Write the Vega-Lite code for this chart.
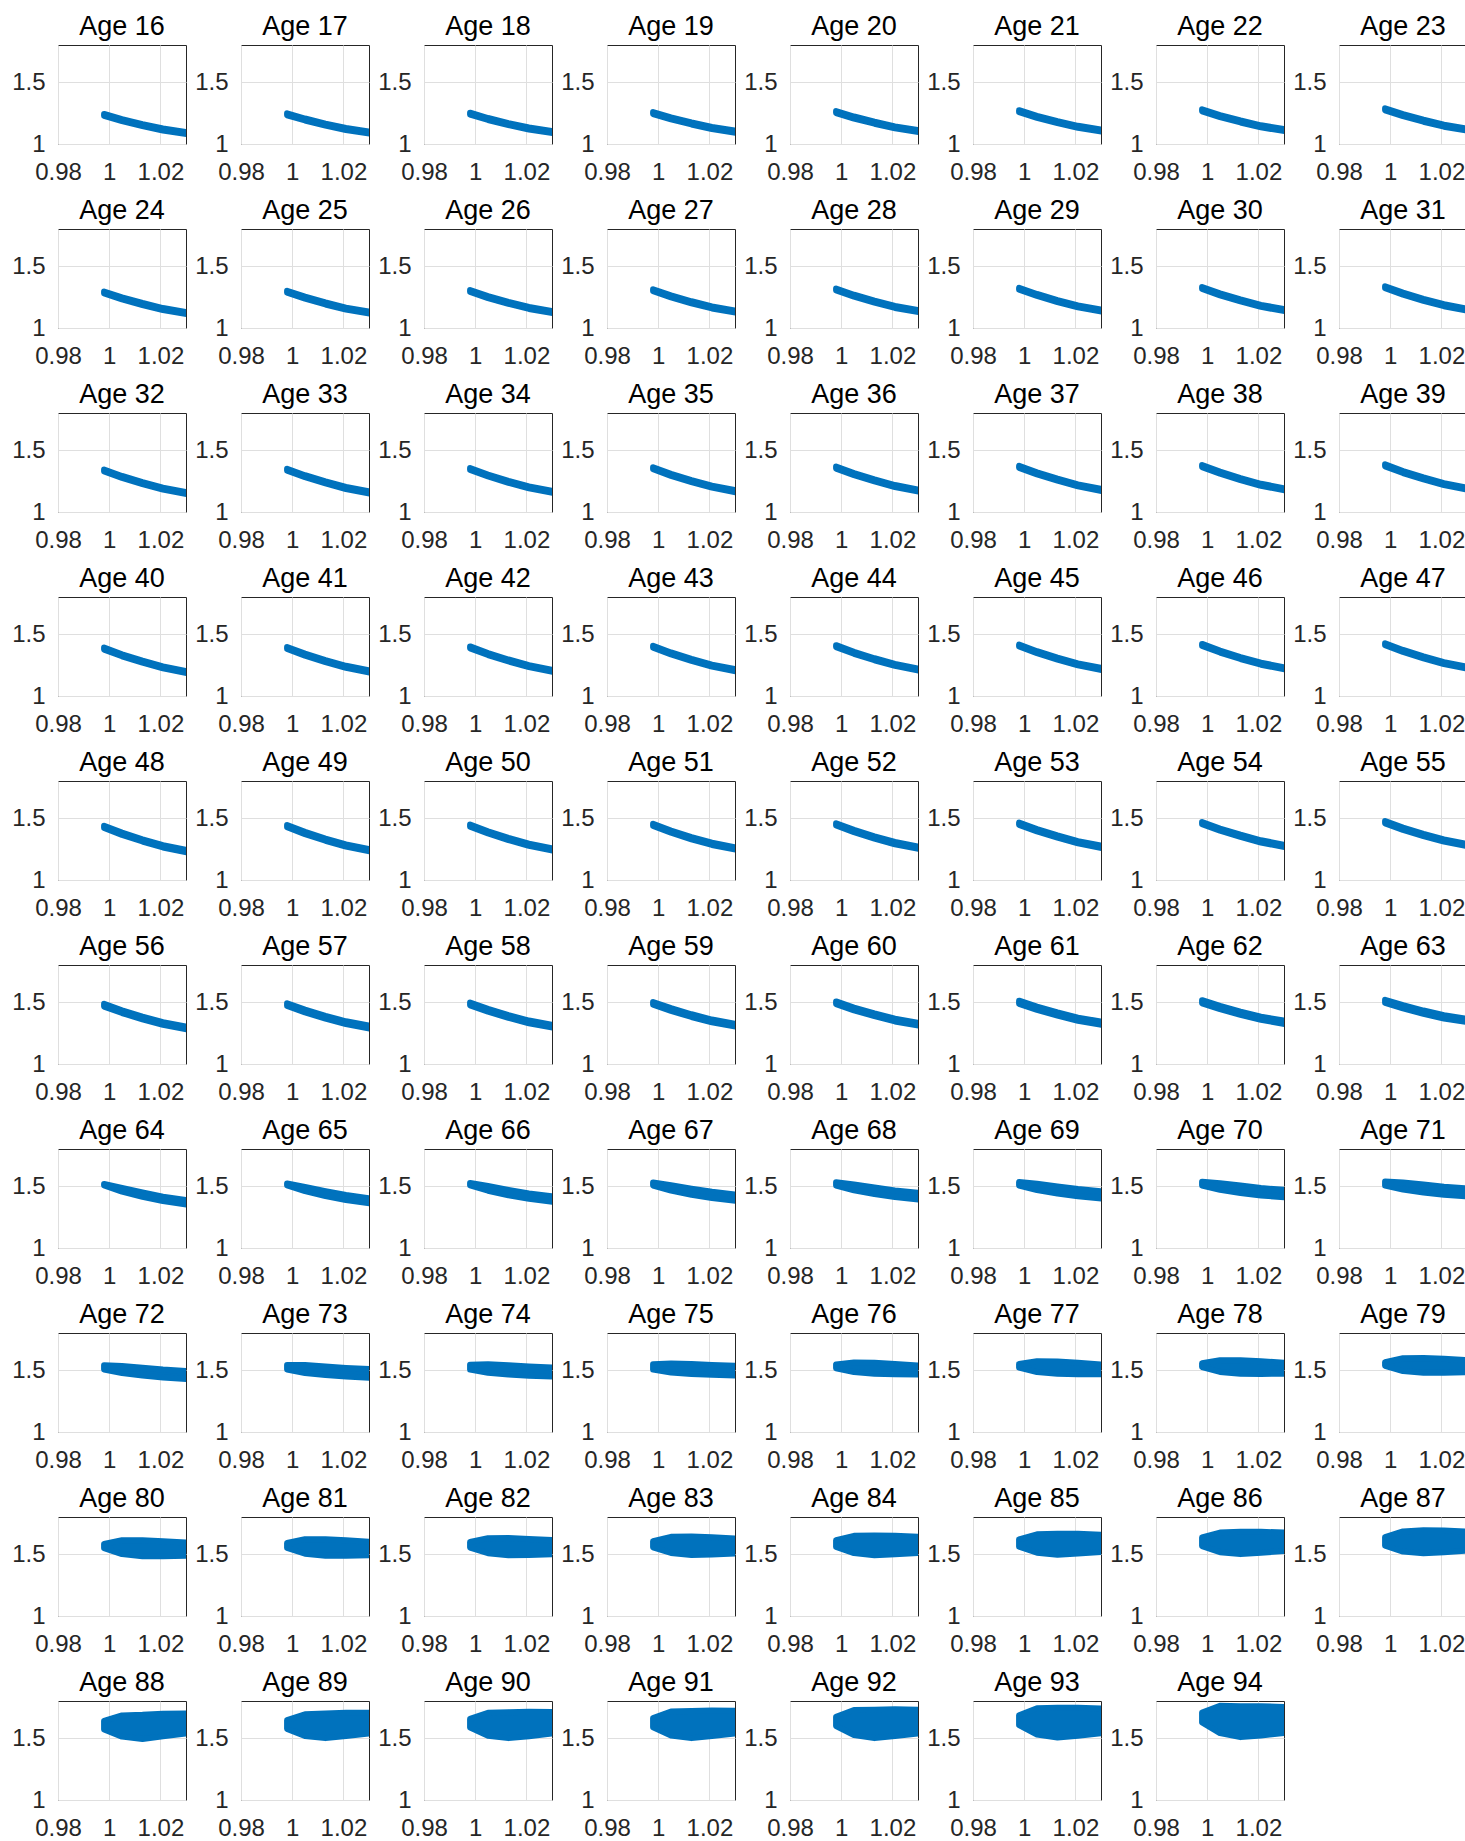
{
"$schema": "https://vega.github.io/schema/vega-lite/v6.json",
"background": "white",
"padding": {"left": 11, "top": 12, "right": 0, "bottom": 0},
"data": {"values": [
{"age":16,"x":0.998,"lo":1.227,"hi":1.243},{"age":16,"x":1.005,"lo":1.185,"hi":1.201},{"age":16,"x":1.013,"lo":1.145,"hi":1.161},{"age":16,"x":1.021,"lo":1.109,"hi":1.125},{"age":16,"x":1.031,"lo":1.077,"hi":1.093},
{"age":17,"x":0.998,"lo":1.232,"hi":1.248},{"age":17,"x":1.005,"lo":1.190,"hi":1.206},{"age":17,"x":1.013,"lo":1.149,"hi":1.165},{"age":17,"x":1.021,"lo":1.113,"hi":1.129},{"age":17,"x":1.031,"lo":1.081,"hi":1.097},
{"age":18,"x":0.998,"lo":1.237,"hi":1.253},{"age":18,"x":1.005,"lo":1.194,"hi":1.210},{"age":18,"x":1.013,"lo":1.153,"hi":1.169},{"age":18,"x":1.021,"lo":1.117,"hi":1.133},{"age":18,"x":1.031,"lo":1.085,"hi":1.101},
{"age":19,"x":0.998,"lo":1.242,"hi":1.258},{"age":19,"x":1.005,"lo":1.199,"hi":1.215},{"age":19,"x":1.013,"lo":1.158,"hi":1.174},{"age":19,"x":1.021,"lo":1.121,"hi":1.137},{"age":19,"x":1.031,"lo":1.089,"hi":1.105},
{"age":20,"x":0.998,"lo":1.250,"hi":1.266},{"age":20,"x":1.005,"lo":1.206,"hi":1.222},{"age":20,"x":1.013,"lo":1.164,"hi":1.180},{"age":20,"x":1.021,"lo":1.126,"hi":1.142},{"age":20,"x":1.031,"lo":1.093,"hi":1.109},
{"age":21,"x":0.998,"lo":1.257,"hi":1.273},{"age":21,"x":1.005,"lo":1.212,"hi":1.228},{"age":21,"x":1.013,"lo":1.169,"hi":1.185},{"age":21,"x":1.021,"lo":1.131,"hi":1.147},{"age":21,"x":1.031,"lo":1.097,"hi":1.113},
{"age":22,"x":0.998,"lo":1.264,"hi":1.280},{"age":22,"x":1.005,"lo":1.218,"hi":1.234},{"age":22,"x":1.013,"lo":1.174,"hi":1.190},{"age":22,"x":1.021,"lo":1.135,"hi":1.151},{"age":22,"x":1.031,"lo":1.101,"hi":1.117},
{"age":23,"x":0.998,"lo":1.272,"hi":1.288},{"age":23,"x":1.005,"lo":1.225,"hi":1.241},{"age":23,"x":1.013,"lo":1.180,"hi":1.196},{"age":23,"x":1.021,"lo":1.140,"hi":1.156},{"age":23,"x":1.031,"lo":1.105,"hi":1.121},
{"age":24,"x":0.998,"lo":1.279,"hi":1.295},{"age":24,"x":1.005,"lo":1.231,"hi":1.247},{"age":24,"x":1.013,"lo":1.186,"hi":1.202},{"age":24,"x":1.021,"lo":1.145,"hi":1.161},{"age":24,"x":1.031,"lo":1.109,"hi":1.125},
{"age":25,"x":0.998,"lo":1.285,"hi":1.301},{"age":25,"x":1.005,"lo":1.237,"hi":1.253},{"age":25,"x":1.013,"lo":1.190,"hi":1.206},{"age":25,"x":1.021,"lo":1.149,"hi":1.165},{"age":25,"x":1.031,"lo":1.113,"hi":1.129},
{"age":26,"x":0.998,"lo":1.291,"hi":1.307},{"age":26,"x":1.005,"lo":1.242,"hi":1.258},{"age":26,"x":1.013,"lo":1.195,"hi":1.211},{"age":26,"x":1.021,"lo":1.154,"hi":1.170},{"age":26,"x":1.031,"lo":1.117,"hi":1.133},
{"age":27,"x":0.998,"lo":1.297,"hi":1.313},{"age":27,"x":1.005,"lo":1.248,"hi":1.264},{"age":27,"x":1.013,"lo":1.200,"hi":1.216},{"age":27,"x":1.021,"lo":1.158,"hi":1.174},{"age":27,"x":1.031,"lo":1.121,"hi":1.137},
{"age":28,"x":0.998,"lo":1.303,"hi":1.319},{"age":28,"x":1.005,"lo":1.253,"hi":1.269},{"age":28,"x":1.013,"lo":1.205,"hi":1.221},{"age":28,"x":1.021,"lo":1.162,"hi":1.178},{"age":28,"x":1.031,"lo":1.125,"hi":1.141},
{"age":29,"x":0.998,"lo":1.309,"hi":1.325},{"age":29,"x":1.005,"lo":1.259,"hi":1.275},{"age":29,"x":1.013,"lo":1.210,"hi":1.226},{"age":29,"x":1.021,"lo":1.167,"hi":1.183},{"age":29,"x":1.031,"lo":1.129,"hi":1.145},
{"age":30,"x":0.998,"lo":1.315,"hi":1.331},{"age":30,"x":1.005,"lo":1.264,"hi":1.280},{"age":30,"x":1.013,"lo":1.215,"hi":1.231},{"age":30,"x":1.021,"lo":1.171,"hi":1.187},{"age":30,"x":1.031,"lo":1.133,"hi":1.149},
{"age":31,"x":0.998,"lo":1.321,"hi":1.337},{"age":31,"x":1.005,"lo":1.270,"hi":1.286},{"age":31,"x":1.013,"lo":1.220,"hi":1.236},{"age":31,"x":1.021,"lo":1.176,"hi":1.192},{"age":31,"x":1.031,"lo":1.137,"hi":1.153},
{"age":32,"x":0.998,"lo":1.327,"hi":1.343},{"age":32,"x":1.005,"lo":1.275,"hi":1.291},{"age":32,"x":1.013,"lo":1.225,"hi":1.241},{"age":32,"x":1.021,"lo":1.181,"hi":1.197},{"age":32,"x":1.031,"lo":1.142,"hi":1.158},
{"age":33,"x":0.998,"lo":1.333,"hi":1.349},{"age":33,"x":1.005,"lo":1.281,"hi":1.297},{"age":33,"x":1.013,"lo":1.231,"hi":1.247},{"age":33,"x":1.021,"lo":1.186,"hi":1.202},{"age":33,"x":1.031,"lo":1.147,"hi":1.163},
{"age":34,"x":0.998,"lo":1.339,"hi":1.355},{"age":34,"x":1.005,"lo":1.287,"hi":1.303},{"age":34,"x":1.013,"lo":1.236,"hi":1.252},{"age":34,"x":1.021,"lo":1.191,"hi":1.207},{"age":34,"x":1.031,"lo":1.152,"hi":1.168},
{"age":35,"x":0.998,"lo":1.345,"hi":1.361},{"age":35,"x":1.005,"lo":1.292,"hi":1.308},{"age":35,"x":1.013,"lo":1.242,"hi":1.258},{"age":35,"x":1.021,"lo":1.197,"hi":1.213},{"age":35,"x":1.031,"lo":1.157,"hi":1.173},
{"age":36,"x":0.998,"lo":1.351,"hi":1.367},{"age":36,"x":1.005,"lo":1.298,"hi":1.314},{"age":36,"x":1.013,"lo":1.247,"hi":1.263},{"age":36,"x":1.021,"lo":1.202,"hi":1.218},{"age":36,"x":1.031,"lo":1.162,"hi":1.178},
{"age":37,"x":0.998,"lo":1.357,"hi":1.373},{"age":37,"x":1.005,"lo":1.304,"hi":1.320},{"age":37,"x":1.013,"lo":1.253,"hi":1.269},{"age":37,"x":1.021,"lo":1.207,"hi":1.223},{"age":37,"x":1.031,"lo":1.167,"hi":1.183},
{"age":38,"x":0.998,"lo":1.363,"hi":1.379},{"age":38,"x":1.005,"lo":1.310,"hi":1.326},{"age":38,"x":1.013,"lo":1.258,"hi":1.274},{"age":38,"x":1.021,"lo":1.212,"hi":1.228},{"age":38,"x":1.031,"lo":1.172,"hi":1.188},
{"age":39,"x":0.998,"lo":1.369,"hi":1.385},{"age":39,"x":1.005,"lo":1.315,"hi":1.331},{"age":39,"x":1.013,"lo":1.263,"hi":1.279},{"age":39,"x":1.021,"lo":1.217,"hi":1.233},{"age":39,"x":1.031,"lo":1.177,"hi":1.193},
{"age":40,"x":0.998,"lo":1.375,"hi":1.391},{"age":40,"x":1.005,"lo":1.321,"hi":1.337},{"age":40,"x":1.013,"lo":1.269,"hi":1.285},{"age":40,"x":1.021,"lo":1.223,"hi":1.239},{"age":40,"x":1.031,"lo":1.182,"hi":1.198},
{"age":41,"x":0.998,"lo":1.380,"hi":1.396},{"age":41,"x":1.005,"lo":1.326,"hi":1.342},{"age":41,"x":1.013,"lo":1.274,"hi":1.290},{"age":41,"x":1.021,"lo":1.228,"hi":1.244},{"age":41,"x":1.031,"lo":1.187,"hi":1.203},
{"age":42,"x":0.998,"lo":1.385,"hi":1.401},{"age":42,"x":1.005,"lo":1.331,"hi":1.347},{"age":42,"x":1.013,"lo":1.279,"hi":1.295},{"age":42,"x":1.021,"lo":1.233,"hi":1.249},{"age":42,"x":1.031,"lo":1.192,"hi":1.208},
{"age":43,"x":0.998,"lo":1.390,"hi":1.406},{"age":43,"x":1.005,"lo":1.336,"hi":1.352},{"age":43,"x":1.013,"lo":1.284,"hi":1.300},{"age":43,"x":1.021,"lo":1.238,"hi":1.254},{"age":43,"x":1.031,"lo":1.197,"hi":1.213},
{"age":44,"x":0.998,"lo":1.395,"hi":1.411},{"age":44,"x":1.005,"lo":1.341,"hi":1.357},{"age":44,"x":1.013,"lo":1.289,"hi":1.305},{"age":44,"x":1.021,"lo":1.243,"hi":1.259},{"age":44,"x":1.031,"lo":1.202,"hi":1.218},
{"age":45,"x":0.998,"lo":1.400,"hi":1.416},{"age":45,"x":1.005,"lo":1.346,"hi":1.362},{"age":45,"x":1.013,"lo":1.294,"hi":1.310},{"age":45,"x":1.021,"lo":1.248,"hi":1.264},{"age":45,"x":1.031,"lo":1.207,"hi":1.223},
{"age":46,"x":0.998,"lo":1.405,"hi":1.421},{"age":46,"x":1.005,"lo":1.351,"hi":1.367},{"age":46,"x":1.013,"lo":1.299,"hi":1.315},{"age":46,"x":1.021,"lo":1.253,"hi":1.269},{"age":46,"x":1.031,"lo":1.212,"hi":1.228},
{"age":47,"x":0.998,"lo":1.410,"hi":1.426},{"age":47,"x":1.005,"lo":1.356,"hi":1.372},{"age":47,"x":1.013,"lo":1.304,"hi":1.320},{"age":47,"x":1.021,"lo":1.258,"hi":1.274},{"age":47,"x":1.031,"lo":1.217,"hi":1.233},
{"age":48,"x":0.998,"lo":1.421,"hi":1.439},{"age":48,"x":1.005,"lo":1.365,"hi":1.383},{"age":48,"x":1.013,"lo":1.311,"hi":1.329},{"age":48,"x":1.021,"lo":1.263,"hi":1.281},{"age":48,"x":1.031,"lo":1.221,"hi":1.239},
{"age":49,"x":0.998,"lo":1.426,"hi":1.444},{"age":49,"x":1.005,"lo":1.371,"hi":1.389},{"age":49,"x":1.013,"lo":1.317,"hi":1.335},{"age":49,"x":1.021,"lo":1.270,"hi":1.288},{"age":49,"x":1.031,"lo":1.228,"hi":1.246},
{"age":50,"x":0.998,"lo":1.431,"hi":1.449},{"age":50,"x":1.005,"lo":1.376,"hi":1.394},{"age":50,"x":1.013,"lo":1.323,"hi":1.341},{"age":50,"x":1.021,"lo":1.276,"hi":1.294},{"age":50,"x":1.031,"lo":1.235,"hi":1.253},
{"age":51,"x":0.998,"lo":1.436,"hi":1.454},{"age":51,"x":1.005,"lo":1.382,"hi":1.400},{"age":51,"x":1.013,"lo":1.329,"hi":1.347},{"age":51,"x":1.021,"lo":1.283,"hi":1.301},{"age":51,"x":1.031,"lo":1.242,"hi":1.260},
{"age":52,"x":0.998,"lo":1.441,"hi":1.459},{"age":52,"x":1.005,"lo":1.387,"hi":1.405},{"age":52,"x":1.013,"lo":1.335,"hi":1.353},{"age":52,"x":1.021,"lo":1.289,"hi":1.307},{"age":52,"x":1.031,"lo":1.249,"hi":1.267},
{"age":53,"x":0.998,"lo":1.446,"hi":1.464},{"age":53,"x":1.005,"lo":1.393,"hi":1.411},{"age":53,"x":1.013,"lo":1.342,"hi":1.360},{"age":53,"x":1.021,"lo":1.296,"hi":1.314},{"age":53,"x":1.031,"lo":1.256,"hi":1.274},
{"age":54,"x":0.998,"lo":1.451,"hi":1.469},{"age":54,"x":1.005,"lo":1.398,"hi":1.416},{"age":54,"x":1.013,"lo":1.348,"hi":1.366},{"age":54,"x":1.021,"lo":1.303,"hi":1.321},{"age":54,"x":1.031,"lo":1.263,"hi":1.281},
{"age":55,"x":0.998,"lo":1.458,"hi":1.476},{"age":55,"x":1.005,"lo":1.405,"hi":1.423},{"age":55,"x":1.013,"lo":1.355,"hi":1.373},{"age":55,"x":1.021,"lo":1.310,"hi":1.328},{"age":55,"x":1.031,"lo":1.270,"hi":1.288},
{"age":56,"x":0.998,"lo":1.464,"hi":1.486},{"age":56,"x":1.005,"lo":1.412,"hi":1.434},{"age":56,"x":1.013,"lo":1.361,"hi":1.383},{"age":56,"x":1.021,"lo":1.316,"hi":1.338},{"age":56,"x":1.031,"lo":1.277,"hi":1.299},
{"age":57,"x":0.998,"lo":1.469,"hi":1.491},{"age":57,"x":1.005,"lo":1.417,"hi":1.439},{"age":57,"x":1.013,"lo":1.367,"hi":1.389},{"age":57,"x":1.021,"lo":1.323,"hi":1.345},{"age":57,"x":1.031,"lo":1.284,"hi":1.306},
{"age":58,"x":0.998,"lo":1.474,"hi":1.496},{"age":58,"x":1.005,"lo":1.423,"hi":1.445},{"age":58,"x":1.013,"lo":1.373,"hi":1.395},{"age":58,"x":1.021,"lo":1.329,"hi":1.351},{"age":58,"x":1.031,"lo":1.291,"hi":1.313},
{"age":59,"x":0.998,"lo":1.479,"hi":1.501},{"age":59,"x":1.005,"lo":1.429,"hi":1.451},{"age":59,"x":1.013,"lo":1.380,"hi":1.402},{"age":59,"x":1.021,"lo":1.337,"hi":1.359},{"age":59,"x":1.031,"lo":1.299,"hi":1.321},
{"age":60,"x":0.998,"lo":1.484,"hi":1.506},{"age":60,"x":1.005,"lo":1.434,"hi":1.456},{"age":60,"x":1.013,"lo":1.387,"hi":1.409},{"age":60,"x":1.021,"lo":1.344,"hi":1.366},{"age":60,"x":1.031,"lo":1.307,"hi":1.329},
{"age":61,"x":0.998,"lo":1.486,"hi":1.512},{"age":61,"x":1.005,"lo":1.438,"hi":1.464},{"age":61,"x":1.013,"lo":1.391,"hi":1.417},{"age":61,"x":1.021,"lo":1.349,"hi":1.375},{"age":61,"x":1.031,"lo":1.313,"hi":1.339},
{"age":62,"x":0.998,"lo":1.490,"hi":1.516},{"age":62,"x":1.005,"lo":1.443,"hi":1.469},{"age":62,"x":1.013,"lo":1.397,"hi":1.423},{"age":62,"x":1.021,"lo":1.357,"hi":1.383},{"age":62,"x":1.031,"lo":1.321,"hi":1.347},
{"age":63,"x":0.998,"lo":1.493,"hi":1.519},{"age":63,"x":1.005,"lo":1.449,"hi":1.475},{"age":63,"x":1.013,"lo":1.406,"hi":1.432},{"age":63,"x":1.021,"lo":1.368,"hi":1.394},{"age":63,"x":1.031,"lo":1.335,"hi":1.361},
{"age":64,"x":0.998,"lo":1.506,"hi":1.518},{"age":64,"x":1.005,"lo":1.456,"hi":1.486},{"age":64,"x":1.013,"lo":1.414,"hi":1.450},{"age":64,"x":1.021,"lo":1.379,"hi":1.415},{"age":64,"x":1.031,"lo":1.348,"hi":1.384},
{"age":65,"x":0.998,"lo":1.506,"hi":1.522},{"age":65,"x":1.005,"lo":1.460,"hi":1.494},{"age":65,"x":1.013,"lo":1.420,"hi":1.460},{"age":65,"x":1.021,"lo":1.388,"hi":1.428},{"age":65,"x":1.031,"lo":1.360,"hi":1.400},
{"age":66,"x":0.998,"lo":1.506,"hi":1.526},{"age":66,"x":1.005,"lo":1.463,"hi":1.501},{"age":66,"x":1.013,"lo":1.426,"hi":1.470},{"age":66,"x":1.021,"lo":1.397,"hi":1.441},{"age":66,"x":1.031,"lo":1.371,"hi":1.415},
{"age":67,"x":0.998,"lo":1.505,"hi":1.529},{"age":67,"x":1.005,"lo":1.464,"hi":1.508},{"age":67,"x":1.013,"lo":1.430,"hi":1.480},{"age":67,"x":1.021,"lo":1.404,"hi":1.454},{"age":67,"x":1.031,"lo":1.380,"hi":1.430},
{"age":68,"x":0.998,"lo":1.505,"hi":1.531},{"age":68,"x":1.005,"lo":1.466,"hi":1.514},{"age":68,"x":1.013,"lo":1.436,"hi":1.490},{"age":68,"x":1.021,"lo":1.411,"hi":1.465},{"age":68,"x":1.031,"lo":1.390,"hi":1.444},
{"age":69,"x":0.998,"lo":1.505,"hi":1.533},{"age":69,"x":1.005,"lo":1.468,"hi":1.520},{"age":69,"x":1.013,"lo":1.440,"hi":1.498},{"age":69,"x":1.021,"lo":1.418,"hi":1.476},{"age":69,"x":1.031,"lo":1.399,"hi":1.457},
{"age":70,"x":0.998,"lo":1.505,"hi":1.535},{"age":70,"x":1.005,"lo":1.470,"hi":1.524},{"age":70,"x":1.013,"lo":1.445,"hi":1.505},{"age":70,"x":1.021,"lo":1.425,"hi":1.485},{"age":70,"x":1.031,"lo":1.408,"hi":1.468},
{"age":71,"x":0.998,"lo":1.504,"hi":1.538},{"age":71,"x":1.005,"lo":1.472,"hi":1.530},{"age":71,"x":1.013,"lo":1.449,"hi":1.513},{"age":71,"x":1.021,"lo":1.431,"hi":1.495},{"age":71,"x":1.031,"lo":1.416,"hi":1.480},
{"age":72,"x":0.998,"lo":1.505,"hi":1.539},{"age":72,"x":1.005,"lo":1.476,"hi":1.534},{"age":72,"x":1.013,"lo":1.456,"hi":1.520},{"age":72,"x":1.021,"lo":1.441,"hi":1.505},{"age":72,"x":1.031,"lo":1.428,"hi":1.492},
{"age":73,"x":0.998,"lo":1.505,"hi":1.541},{"age":73,"x":1.005,"lo":1.477,"hi":1.541},{"age":73,"x":1.013,"lo":1.460,"hi":1.530},{"age":73,"x":1.021,"lo":1.448,"hi":1.518},{"age":73,"x":1.031,"lo":1.437,"hi":1.507},
{"age":74,"x":0.998,"lo":1.504,"hi":1.544},{"age":74,"x":1.005,"lo":1.479,"hi":1.547},{"age":74,"x":1.013,"lo":1.465,"hi":1.539},{"age":74,"x":1.021,"lo":1.455,"hi":1.529},{"age":74,"x":1.031,"lo":1.447,"hi":1.521},
{"age":75,"x":0.998,"lo":1.504,"hi":1.548},{"age":75,"x":1.005,"lo":1.480,"hi":1.554},{"age":75,"x":1.013,"lo":1.469,"hi":1.549},{"age":75,"x":1.021,"lo":1.462,"hi":1.542},{"age":75,"x":1.031,"lo":1.455,"hi":1.535},
{"age":76,"x":0.998,"lo":1.515,"hi":1.545},{"age":76,"x":1.005,"lo":1.484,"hi":1.561},{"age":76,"x":1.013,"lo":1.470,"hi":1.560},{"age":76,"x":1.021,"lo":1.466,"hi":1.550},{"age":76,"x":1.031,"lo":1.465,"hi":1.535},
{"age":77,"x":0.998,"lo":1.520,"hi":1.550},{"age":77,"x":1.005,"lo":1.485,"hi":1.571},{"age":77,"x":1.013,"lo":1.470,"hi":1.570},{"age":77,"x":1.021,"lo":1.466,"hi":1.559},{"age":77,"x":1.031,"lo":1.466,"hi":1.545},
{"age":78,"x":0.998,"lo":1.525,"hi":1.555},{"age":78,"x":1.005,"lo":1.485,"hi":1.580},{"age":78,"x":1.013,"lo":1.470,"hi":1.580},{"age":78,"x":1.021,"lo":1.469,"hi":1.571},{"age":78,"x":1.031,"lo":1.471,"hi":1.559},
{"age":79,"x":0.998,"lo":1.535,"hi":1.565},{"age":79,"x":1.005,"lo":1.492,"hi":1.596},{"age":79,"x":1.013,"lo":1.478,"hi":1.598},{"age":79,"x":1.021,"lo":1.479,"hi":1.591},{"age":79,"x":1.031,"lo":1.484,"hi":1.580},
{"age":80,"x":0.998,"lo":1.548,"hi":1.583},{"age":80,"x":1.005,"lo":1.500,"hi":1.613},{"age":80,"x":1.013,"lo":1.483,"hi":1.613},{"age":80,"x":1.021,"lo":1.483,"hi":1.605},{"age":80,"x":1.031,"lo":1.488,"hi":1.592},
{"age":81,"x":0.998,"lo":1.550,"hi":1.590},{"age":81,"x":1.005,"lo":1.503,"hi":1.621},{"age":81,"x":1.013,"lo":1.486,"hi":1.621},{"age":81,"x":1.021,"lo":1.486,"hi":1.612},{"age":81,"x":1.031,"lo":1.491,"hi":1.599},
{"age":82,"x":0.998,"lo":1.553,"hi":1.598},{"age":82,"x":1.005,"lo":1.507,"hi":1.629},{"age":82,"x":1.013,"lo":1.490,"hi":1.630},{"age":82,"x":1.021,"lo":1.492,"hi":1.623},{"age":82,"x":1.031,"lo":1.499,"hi":1.612},
{"age":83,"x":0.998,"lo":1.555,"hi":1.605},{"age":83,"x":1.005,"lo":1.509,"hi":1.640},{"age":83,"x":1.013,"lo":1.493,"hi":1.643},{"age":83,"x":1.021,"lo":1.497,"hi":1.637},{"age":83,"x":1.031,"lo":1.505,"hi":1.625},
{"age":84,"x":0.998,"lo":1.558,"hi":1.613},{"age":84,"x":1.005,"lo":1.508,"hi":1.648},{"age":84,"x":1.013,"lo":1.490,"hi":1.650},{"age":84,"x":1.021,"lo":1.498,"hi":1.648},{"age":84,"x":1.031,"lo":1.510,"hi":1.640},
{"age":85,"x":0.998,"lo":1.560,"hi":1.620},{"age":85,"x":1.005,"lo":1.511,"hi":1.660},{"age":85,"x":1.013,"lo":1.495,"hi":1.665},{"age":85,"x":1.021,"lo":1.504,"hi":1.664},{"age":85,"x":1.031,"lo":1.518,"hi":1.656},
{"age":86,"x":0.998,"lo":1.565,"hi":1.635},{"age":86,"x":1.005,"lo":1.516,"hi":1.674},{"age":86,"x":1.013,"lo":1.500,"hi":1.680},{"age":86,"x":1.021,"lo":1.511,"hi":1.680},{"age":86,"x":1.031,"lo":1.527,"hi":1.674},
{"age":87,"x":0.998,"lo":1.568,"hi":1.638},{"age":87,"x":1.005,"lo":1.521,"hi":1.683},{"age":87,"x":1.013,"lo":1.508,"hi":1.693},{"age":87,"x":1.021,"lo":1.516,"hi":1.690},{"age":87,"x":1.031,"lo":1.529,"hi":1.681},
{"age":88,"x":0.998,"lo":1.570,"hi":1.640},{"age":88,"x":1.005,"lo":1.512,"hi":1.683},{"age":88,"x":1.013,"lo":1.493,"hi":1.688},{"age":88,"x":1.021,"lo":1.514,"hi":1.697},{"age":88,"x":1.031,"lo":1.540,"hi":1.700},
{"age":89,"x":0.998,"lo":1.575,"hi":1.645},{"age":89,"x":1.005,"lo":1.517,"hi":1.693},{"age":89,"x":1.013,"lo":1.500,"hi":1.700},{"age":89,"x":1.021,"lo":1.517,"hi":1.705},{"age":89,"x":1.031,"lo":1.540,"hi":1.704},
{"age":90,"x":0.998,"lo":1.585,"hi":1.655},{"age":90,"x":1.005,"lo":1.520,"hi":1.705},{"age":90,"x":1.013,"lo":1.500,"hi":1.710},{"age":90,"x":1.021,"lo":1.516,"hi":1.714},{"age":90,"x":1.031,"lo":1.539,"hi":1.711},
{"age":91,"x":0.998,"lo":1.588,"hi":1.663},{"age":91,"x":1.005,"lo":1.521,"hi":1.715},{"age":91,"x":1.013,"lo":1.500,"hi":1.720},{"age":91,"x":1.021,"lo":1.517,"hi":1.724},{"age":91,"x":1.031,"lo":1.540,"hi":1.721},
{"age":92,"x":0.998,"lo":1.598,"hi":1.673},{"age":92,"x":1.005,"lo":1.524,"hi":1.727},{"age":92,"x":1.013,"lo":1.500,"hi":1.730},{"age":92,"x":1.021,"lo":1.517,"hi":1.733},{"age":92,"x":1.031,"lo":1.540,"hi":1.730},
{"age":93,"x":0.998,"lo":1.605,"hi":1.685},{"age":93,"x":1.005,"lo":1.529,"hi":1.741},{"age":93,"x":1.013,"lo":1.505,"hi":1.745},{"age":93,"x":1.021,"lo":1.520,"hi":1.746},{"age":93,"x":1.031,"lo":1.541,"hi":1.739},
{"age":94,"x":0.998,"lo":1.627,"hi":1.707},{"age":94,"x":1.005,"lo":1.540,"hi":1.761},{"age":94,"x":1.013,"lo":1.508,"hi":1.758},{"age":94,"x":1.021,"lo":1.522,"hi":1.758},{"age":94,"x":1.031,"lo":1.544,"hi":1.750}
]},
"transform": [
  {"lookup": "age", "from": {"data": {"values": [
    {"age":16,"panel":"Age 16"},{"age":17,"panel":"Age 17"},{"age":18,"panel":"Age 18"},{"age":19,"panel":"Age 19"},{"age":20,"panel":"Age 20"},
    {"age":21,"panel":"Age 21"},{"age":22,"panel":"Age 22"},{"age":23,"panel":"Age 23"},{"age":24,"panel":"Age 24"},{"age":25,"panel":"Age 25"},
    {"age":26,"panel":"Age 26"},{"age":27,"panel":"Age 27"},{"age":28,"panel":"Age 28"},{"age":29,"panel":"Age 29"},{"age":30,"panel":"Age 30"},
    {"age":31,"panel":"Age 31"},{"age":32,"panel":"Age 32"},{"age":33,"panel":"Age 33"},{"age":34,"panel":"Age 34"},{"age":35,"panel":"Age 35"},
    {"age":36,"panel":"Age 36"},{"age":37,"panel":"Age 37"},{"age":38,"panel":"Age 38"},{"age":39,"panel":"Age 39"},{"age":40,"panel":"Age 40"},
    {"age":41,"panel":"Age 41"},{"age":42,"panel":"Age 42"},{"age":43,"panel":"Age 43"},{"age":44,"panel":"Age 44"},{"age":45,"panel":"Age 45"},
    {"age":46,"panel":"Age 46"},{"age":47,"panel":"Age 47"},{"age":48,"panel":"Age 48"},{"age":49,"panel":"Age 49"},{"age":50,"panel":"Age 50"},
    {"age":51,"panel":"Age 51"},{"age":52,"panel":"Age 52"},{"age":53,"panel":"Age 53"},{"age":54,"panel":"Age 54"},{"age":55,"panel":"Age 55"},
    {"age":56,"panel":"Age 56"},{"age":57,"panel":"Age 57"},{"age":58,"panel":"Age 58"},{"age":59,"panel":"Age 59"},{"age":60,"panel":"Age 60"},
    {"age":61,"panel":"Age 61"},{"age":62,"panel":"Age 62"},{"age":63,"panel":"Age 63"},{"age":64,"panel":"Age 64"},{"age":65,"panel":"Age 65"},
    {"age":66,"panel":"Age 66"},{"age":67,"panel":"Age 67"},{"age":68,"panel":"Age 68"},{"age":69,"panel":"Age 69"},{"age":70,"panel":"Age 70"},
    {"age":71,"panel":"Age 71"},{"age":72,"panel":"Age 72"},{"age":73,"panel":"Age 73"},{"age":74,"panel":"Age 74"},{"age":75,"panel":"Age 75"},
    {"age":76,"panel":"Age 76"},{"age":77,"panel":"Age 77"},{"age":78,"panel":"Age 78"},{"age":79,"panel":"Age 79"},{"age":80,"panel":"Age 80"},
    {"age":81,"panel":"Age 81"},{"age":82,"panel":"Age 82"},{"age":83,"panel":"Age 83"},{"age":84,"panel":"Age 84"},{"age":85,"panel":"Age 85"},
    {"age":86,"panel":"Age 86"},{"age":87,"panel":"Age 87"},{"age":88,"panel":"Age 88"},{"age":89,"panel":"Age 89"},{"age":90,"panel":"Age 90"},
    {"age":91,"panel":"Age 91"},{"age":92,"panel":"Age 92"},{"age":93,"panel":"Age 93"},{"age":94,"panel":"Age 94"}
  ]}, "key": "age", "fields": ["panel"]}}
],
"facet": {"field": "panel", "type": "nominal", "title": null,
  "header": {"labelFont": "Liberation Sans", "labelFontSize": 27, "labelColor": "#000000", "labelPadding": 4.5}},
"columns": 8,
"spacing": {"row": 85, "column": 55},
"bounds": "flush",
"spec": {
  "width": 128,
  "height": 99,
  "mark": {"type": "area", "color": "#0072BD", "stroke": "#0072BD", "strokeWidth": 6, "strokeJoin": "round", "clip": true, "opacity": 1},
  "encoding": {
    "x": {"field": "x", "type": "quantitative", "scale": {"domain": [0.98, 1.03], "nice": false, "zero": false},
          "axis": {"values": [0.98, 1, 1.02], "title": null, "format": "~g", "labelPadding": 16}},
    "y": {"field": "hi", "type": "quantitative", "scale": {"domain": [1, 1.8], "nice": false, "zero": false},
          "axis": {"values": [1, 1.5], "title": null, "format": "~g"}},
    "y2": {"field": "lo"}
  }
},
"resolve": {"axis": {"x": "independent", "y": "independent"}},
"config": {
  "view": {"stroke": "#262626", "strokeWidth": 1},
  "header": {"labelFont": "Liberation Sans", "labelFontSize": 27, "labelColor": "#000000", "labelPadding": 4.5},
  "axis": {"domain": false, "ticks": false, "grid": true, "gridColor": "#dfdfdf", "gridWidth": 1,
           "labelFont": "Liberation Sans", "labelFontSize": 24, "labelColor": "#262626", "labelPadding": 13,
           "labelFlush": false, "labelOverlap": false}
}
}
